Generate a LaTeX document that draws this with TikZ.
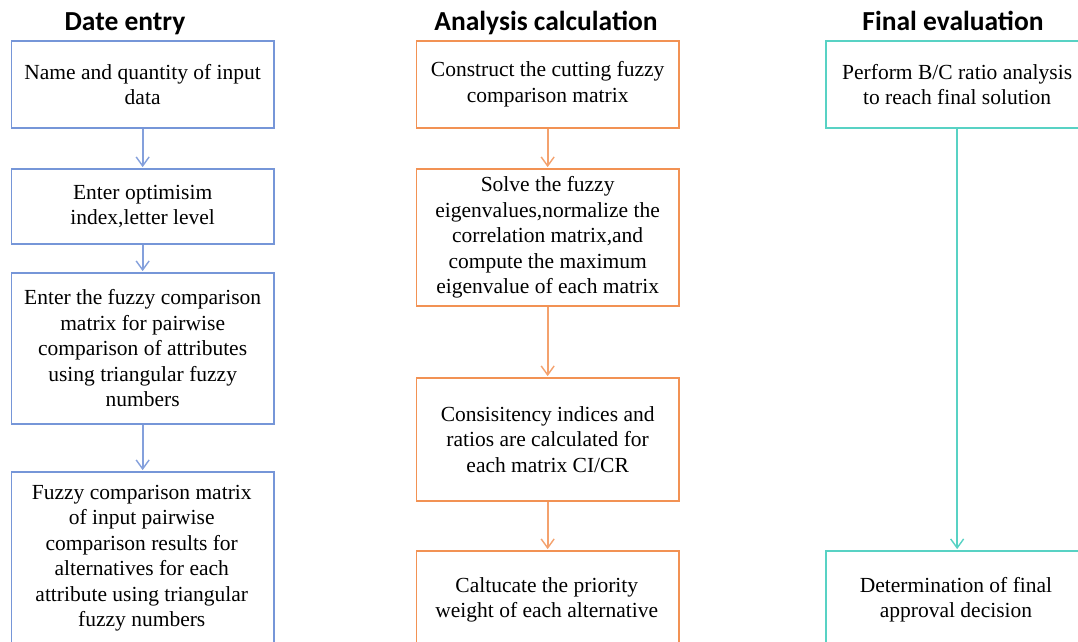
\documentclass[tikz,border=0pt]{standalone}
\usepackage{fontspec}
\setmainfont{Liberation Serif}
\newfontfamily\headfont{Carlito}
\usetikzlibrary{arrows.meta}
\definecolor{cblue}{RGB}{118,150,216}
\definecolor{corange}{RGB}{242,146,84}
\definecolor{cteal}{RGB}{88,210,196}
\tikzset{
  box/.style={draw, line width=1.8pt, rectangle, inner sep=0pt, anchor=north west,
    minimum width=262.5pt, align=center,
    font=\fontsize{21.5}{25.5}\selectfont},
  txt/.style={align=center, inner sep=0pt, font=\fontsize{21.5}{25.5}\selectfont},
  head/.style={anchor=base, inner sep=0pt, font=\headfont\bfseries\fontsize{27.5}{30}\selectfont},
  conn/.style={line width=1.8pt, -{Straight Barb[length=9pt,width=13pt,line width=1.4pt]}, shorten >=0.9pt}
}
\begin{document}
\begin{tikzpicture}[x=1pt,y=-1pt]
\useasboundingbox (0,0) rectangle (1078,641);
\clip (0,0) rectangle (1078,641);
\fill[white] (0,0) rectangle (1078,641);

% headers
\node[head] (h1) at (125,30.5) {Date entry};
\node[head] (h2) at (546,30.5) {Analysis calculation};
\node[head] (h3) at (953,30.5) {Final evaluation};

% column 1
\node[box, draw=cblue, minimum height=87pt] (a1) at (10.5,40) {Name and quantity of input\\data};
\node[box, draw=cblue, minimum height=75pt] (a2) at (10.5,168) {Enter optimisim\\index,letter level};
\node[box, draw=cblue, minimum height=151pt] (a3) at (10.5,272) {Enter the fuzzy comparison\\matrix for pairwise\\comparison of attributes\\using triangular fuzzy\\numbers};
\node[box, draw=cblue, minimum height=200pt] (a4) at (10.5,471) {};
\node[txt, anchor=north] (a4t) at (141.75,485) {Fuzzy comparison matrix\\of input pairwise\\comparison results for\\alternatives for each\\attribute using triangular\\fuzzy numbers};

% column 2
\node[box, draw=corange, minimum height=87pt] (b1) at (415.5,40) {Construct the cutting fuzzy\\comparison matrix};
\node[box, draw=corange, minimum height=137pt] (b2) at (415.5,168) {Solve the fuzzy\\eigenvalues,normalize the\\correlation matrix,and\\compute the maximum\\eigenvalue of each matrix};
\node[box, draw=corange, minimum height=123pt] (b3) at (415.5,377) {Consisitency indices and\\ratios are calculated for\\each matrix CI/CR};
\node[box, draw=corange, minimum height=150pt] (b4) at (415.5,550) {};
\node[txt, anchor=north] (b4t) at (546.75,577) {Caltucate the priority\\weight of each alternative};

% column 3
\node[box, draw=cteal, minimum height=87pt] (c1) at (825,40) {Perform B/C ratio analysis\\to reach final solution};
\node[box, draw=cteal, minimum height=150pt] (c2) at (825,550) {};
\node[txt, anchor=north] (c2t) at (956,577) {Determination of final\\approval decision};

% connectors
\draw[conn, draw=cblue!90] (a1) -- (a2);
\draw[conn, draw=cblue!90] (a2) -- (a3);
\draw[conn, draw=cblue!90] (a3) -- (a4);
\draw[conn, draw=corange!85] (b1) -- (b2);
\draw[conn, draw=corange!85] (b2) -- (b3);
\draw[conn, draw=corange!85] (b3) -- (b4);
\draw[conn, draw=cteal] (c1) -- (c2);
\end{tikzpicture}
\end{document}
